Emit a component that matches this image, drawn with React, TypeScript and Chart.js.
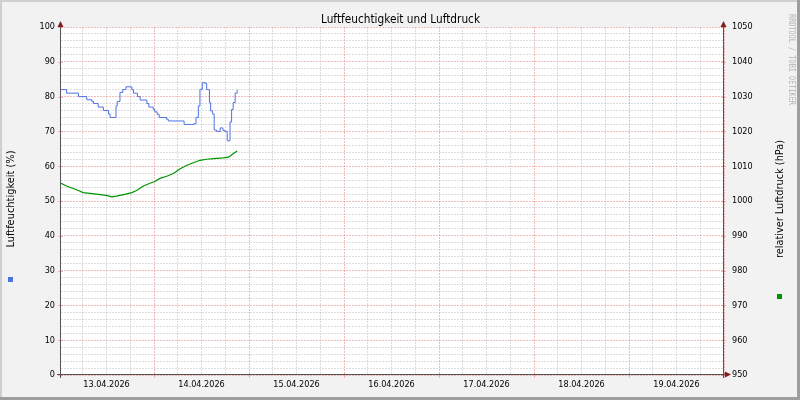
import { useEffect, useRef } from "react";
import { Chart, registerables } from "chart.js";

Chart.register(...registerables);

// hours since 13.04.2026 00:00
const humidityHours = [
  0.5, 1.9, 4.9, 7.0, 8.3, 8.7, 9.9, 11.2, 12.5, 12.9, 14.4, 14.7, 15.4, 16.1, 16.9,
  18.4, 18.8, 19.8, 20.5, 22.2, 22.7, 23.8, 24.2, 24.8, 25.3, 27.2, 27.6, 31.6, 34.1,
  34.6, 35.2, 35.6, 36.2, 36.9, 37.3, 38.0, 38.3, 38.8, 39.2, 39.8, 40.7, 41.4, 41.9,
  42.5, 43.2, 43.6, 44.0, 44.5, 45.0,
];
const humidityValues = [
  82, 81, 80, 79.1, 78.6, 78, 77, 76, 75, 74, 77.3, 78.6, 81.2, 82, 82.8,
  82, 81, 80, 79, 78, 77, 76.3, 75.6, 74.9, 74, 73.5, 73, 72, 72.2,
  74, 77.3, 82.1, 84, 83.8, 82, 78.3, 75.9, 75, 70.4, 70, 71, 70.3, 70,
  67.3, 72.7, 76.3, 78.3, 81, 82,
];

const pressureHours = [
  0.5, 1.9, 3.6, 4.9, 6.1, 7.8, 9.9, 12.0, 13.3, 14.5, 16.6, 18.4, 19.6, 21.3, 23.0,
  24.2, 25.5, 27.2, 28.9, 30.5, 32.2, 33.9, 35.6, 37.3, 39.0, 41.5, 42.8, 44.0, 45.0,
];
const pressureValues = [
  1005.1, 1004.3, 1003.6, 1003.0, 1002.4, 1002.2, 1001.9, 1001.6, 1001.2, 1001.4,
  1001.9, 1002.4, 1003.0, 1004.3, 1005.1, 1005.6, 1006.5, 1007.1, 1007.9, 1009.2,
  1010.2, 1011.0, 1011.7, 1012.0, 1012.2, 1012.4, 1012.6, 1013.6, 1014.4,
];

const xTickHours = [
  6, 12, 18, 24, 30, 36, 42, 48, 54, 60, 66, 72, 78, 84, 90, 96, 102, 108, 114, 120,
  126, 132, 138, 144, 150, 156, 162, 168,
];
const dayLabels = [
  "13.04.2026", "14.04.2026", "15.04.2026", "16.04.2026", "17.04.2026", "18.04.2026", "19.04.2026",
];

const chartTitle = "Luftfeuchtigkeit und Luftdruck";
const leftTitle = "Luftfeuchtigkeit (%)";
const rightTitle = "relativer Luftdruck (hPa)";
const watermark = "RRDTOOL / TOBI OETIKER";

const BLUE = "#4f72e3";
const GREEN = "#009400";
const GRID = "rgba(143,143,143,0.3)";
const MGRID = "rgba(222,79,79,0.38)";
const ARROW = "#801f1f";
const AXIS = "#555";
const FONT = "'DejaVu Sans Condensed', 'DejaVu Sans', sans-serif";

function drawFit(
  ctx: CanvasRenderingContext2D,
  text: string,
  x: number,
  y: number,
  width: number,
  font: string,
  color: string,
  rotation = 0
) {
  ctx.save();
  ctx.font = font;
  ctx.fillStyle = color;
  ctx.textAlign = "center";
  ctx.textBaseline = "middle";
  const w = ctx.measureText(text).width;
  ctx.translate(x, y);
  ctx.rotate(rotation);
  ctx.scale(width / w, 1);
  ctx.fillText(text, 0, 0);
  ctx.restore();
}

const rrdDecor = {
  id: "rrdDecor",
  beforeDraw(chart: Chart) {
    const { ctx, chartArea: a, width, height } = chart;
    ctx.save();
    ctx.fillStyle = "#f2f2f2";
    ctx.fillRect(0, 0, width, height);
    ctx.fillStyle = "#cfcfcf";
    ctx.fillRect(0, 0, width, 2);
    ctx.fillRect(0, 0, 2, height);
    ctx.fillStyle = "#9e9e9e";
    ctx.fillRect(width - 3, 0, 3, height);
    ctx.fillRect(0, height - 3, width, 3);
    ctx.fillStyle = "#ffffff";
    ctx.fillRect(a.left, a.top, a.right - a.left, a.bottom - a.top);
    ctx.restore();
  },
  afterDraw(chart: Chart) {
    const { ctx, chartArea: a } = chart;
    const yl = chart.scales.y;
    const xs = chart.scales.x;
    ctx.save();

    // major tick marks
    ctx.strokeStyle = MGRID;
    ctx.lineWidth = 1;
    ctx.beginPath();
    yl.ticks.forEach((t) => {
      if (t.value % 10 !== 0) return;
      const py = Math.round(yl.getPixelForValue(t.value)) + 0.5;
      ctx.moveTo(a.left - 3, py);
      ctx.lineTo(a.left + 2, py);
      ctx.moveTo(a.right - 3, py);
      ctx.lineTo(a.right + 2, py);
    });
    xs.ticks.forEach((t) => {
      if (t.value % 24 !== 0) return;
      const px = Math.round(xs.getPixelForValue(t.value)) + 0.5;
      ctx.moveTo(px, a.bottom - 2);
      ctx.lineTo(px, a.bottom + 3);
    });
    ctx.stroke();

    // axes
    ctx.strokeStyle = AXIS;
    ctx.beginPath();
    ctx.moveTo(a.left - 0.5, a.top - 4);
    ctx.lineTo(a.left - 0.5, a.bottom + 3);
    ctx.moveTo(a.right - 0.5, a.top - 4);
    ctx.lineTo(a.right - 0.5, a.bottom + 3);
    ctx.moveTo(a.left - 4, a.bottom - 0.5);
    ctx.lineTo(a.right + 3, a.bottom - 0.5);
    ctx.stroke();

    // arrows
    ctx.fillStyle = ARROW;
    const arrowUp = (x: number) => {
      ctx.beginPath();
      ctx.moveTo(x, a.top - 6);
      ctx.lineTo(x - 3, a.top);
      ctx.lineTo(x + 3, a.top);
      ctx.closePath();
      ctx.fill();
    };
    arrowUp(a.left - 0.5);
    arrowUp(a.right - 0.5);
    ctx.beginPath();
    ctx.moveTo(a.right + 7, a.bottom - 0.5);
    ctx.lineTo(a.right + 1, a.bottom - 3.5);
    ctx.lineTo(a.right + 1, a.bottom + 2.5);
    ctx.closePath();
    ctx.fill();

    // texts
    drawFit(ctx, chartTitle, 400.5, 19.5, 159, `12px ${FONT}`, "#000");
    drawFit(ctx, leftTitle, 11, 199, 97, `11px ${FONT}`, "#000", -Math.PI / 2);
    drawFit(ctx, rightTitle, 780.5, 199, 118, `11px ${FONT}`, "#000", -Math.PI / 2);
    drawFit(ctx, watermark, 791, 59.5, 91, `8px 'DejaVu Sans Mono', monospace`, "#b4b4b4", Math.PI / 2);

    // colour markers
    ctx.fillStyle = BLUE;
    ctx.fillRect(8, 277, 5, 5);
    ctx.fillStyle = GREEN;
    ctx.fillRect(777, 294, 5, 5);

    ctx.restore();
  },
};

export default function App() {
  const chartRef = useRef<HTMLCanvasElement>(null);
  const chartInstance = useRef<Chart | null>(null);

  useEffect(() => {
    if (!chartRef.current) return;
    document.body.style.margin = "0";

    if (chartInstance.current) {
      chartInstance.current.destroy();
    }

    const tickFont = { family: FONT, size: 9 };

    chartInstance.current = new Chart(chartRef.current, {
      type: "line",
      data: {
        datasets: [
          {
            label: "Luftfeuchtigkeit",
            data: humidityHours.map((h, i) => ({ x: h, y: humidityValues[i] })),
            borderColor: BLUE,
            borderWidth: 1,
            pointRadius: 0,
            stepped: true,
            yAxisID: "y",
          },
          {
            label: "Luftdruck",
            data: pressureHours.map((h, i) => ({ x: h, y: pressureValues[i] })),
            borderColor: GREEN,
            borderWidth: 1.2,
            pointRadius: 0,
            tension: 0,
            yAxisID: "y1",
          },
        ],
      },
      options: {
        responsive: false,
        animation: false,
        layout: { padding: { top: 27, left: 0, right: 0, bottom: 0 } },
        plugins: {
          legend: { display: false },
          tooltip: { enabled: false },
        },
        scales: {
          x: {
            type: "linear",
            min: 0.5,
            max: 168,
            afterBuildTicks: (scale) => {
              scale.ticks = xTickHours.map((v) => ({ value: v }));
            },
            afterFit: (scale) => {
              scale.height = 25;
            },
            grid: {
              color: (c) => (c.tick && c.tick.value % 24 === 0 ? MGRID : GRID),
              drawTicks: false,
              lineWidth: 1,
            },
            border: { display: false, dash: [2, 1] },
            ticks: {
              autoSkip: false,
              maxRotation: 0,
              padding: 4,
              color: "#000",
              font: tickFont,
              callback: (v) => {
                const n = Number(v);
                return n % 24 === 12 ? dayLabels[(n - 12) / 24] : "";
              },
            },
          },
          y: {
            position: "left",
            min: 0,
            max: 100,
            afterFit: (scale) => {
              scale.width = 61;
            },
            grid: {
              color: (c) => (c.tick && c.tick.value % 10 === 0 ? MGRID : GRID),
              drawTicks: false,
              lineWidth: 1,
            },
            border: { display: false, dash: [2, 1] },
            ticks: {
              stepSize: 2,
              autoSkip: false,
              padding: 6,
              color: "#000",
              font: tickFont,
              callback: (v) => (Number(v) % 10 === 0 ? String(v) : ""),
            },
          },
          y1: {
            position: "right",
            min: 950,
            max: 1050,
            afterFit: (scale) => {
              scale.width = 76;
            },
            grid: { drawOnChartArea: false, drawTicks: false },
            border: { display: false },
            ticks: {
              stepSize: 10,
              autoSkip: false,
              padding: 8,
              color: "#000",
              font: tickFont,
              callback: (v) => String(v),
            },
          },
        },
      },
      plugins: [rrdDecor],
    });

    return () => {
      if (chartInstance.current) {
        chartInstance.current.destroy();
        chartInstance.current = null;
      }
    };
  }, []);

  return (
    <div style={{ position: "absolute", left: 0, top: 0, width: 800, height: 400 }}>
      <canvas ref={chartRef} width={800} height={400} />
    </div>
  );
}
